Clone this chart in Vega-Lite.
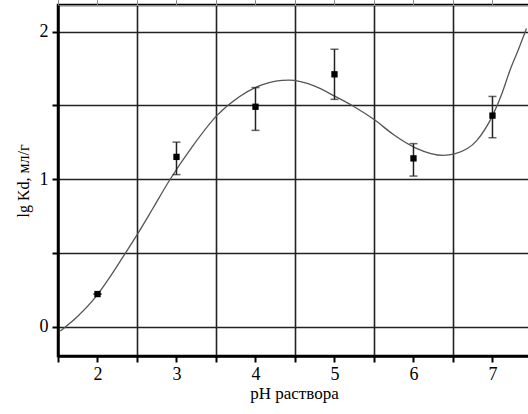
{
  "$schema": "https://vega.github.io/schema/vega-lite/v6.json",
  "autosize": {"type": "none"},
  "padding": {"left": 58, "top": 5, "right": 0, "bottom": 58},
  "width": 472,
  "height": 351,
  "background": "white",
  "config": {
    "font": "Liberation Serif",
    "view": {"stroke": "black", "strokeWidth": 2.5},
    "style": {"guide-title": {"font": "Liberation Serif", "fontWeight": "normal"}, "guide-label": {"font": "Liberation Serif"}},
    "axis": {"labelFont": "Liberation Serif", "titleFont": "Liberation Serif", "labelColor": "black", "titleColor": "black", "titleFontWeight": "normal"}
  },
  "datasets": {
    "curve": [
      {"pH": 1.53, "lg": -0.03},
      {"pH": 1.75, "lg": 0.07},
      {"pH": 1.99, "lg": 0.21},
      {"pH": 2.15, "lg": 0.33},
      {"pH": 2.32, "lg": 0.47},
      {"pH": 2.51, "lg": 0.63},
      {"pH": 2.7, "lg": 0.8},
      {"pH": 2.91, "lg": 0.99},
      {"pH": 3.2, "lg": 1.22},
      {"pH": 3.51, "lg": 1.43},
      {"pH": 3.8, "lg": 1.56},
      {"pH": 4.09, "lg": 1.64},
      {"pH": 4.42, "lg": 1.67},
      {"pH": 4.75, "lg": 1.63},
      {"pH": 5.01, "lg": 1.56},
      {"pH": 5.25, "lg": 1.49},
      {"pH": 5.51, "lg": 1.4},
      {"pH": 5.75, "lg": 1.3},
      {"pH": 6.03, "lg": 1.21},
      {"pH": 6.38, "lg": 1.16},
      {"pH": 6.52, "lg": 1.17},
      {"pH": 6.8, "lg": 1.26},
      {"pH": 7.01, "lg": 1.44},
      {"pH": 7.12, "lg": 1.58},
      {"pH": 7.23, "lg": 1.75},
      {"pH": 7.33, "lg": 1.88},
      {"pH": 7.43, "lg": 2.02}
    ],
    "points": [
      {"pH": 2, "lg": 0.22, "lo": 0.22, "hi": 0.22},
      {"pH": 3, "lg": 1.15, "lo": 1.03, "hi": 1.25},
      {"pH": 4, "lg": 1.49, "lo": 1.33, "hi": 1.62},
      {"pH": 5, "lg": 1.71, "lo": 1.54, "hi": 1.88},
      {"pH": 6, "lg": 1.14, "lo": 1.02, "hi": 1.24},
      {"pH": 7, "lg": 1.43, "lo": 1.28, "hi": 1.56}
    ]
  },
  "resolve": {"axis": {"x": "independent"}},
  "layer": [
    {
      "data": {"name": "curve"},
      "mark": {"type": "line", "color": "#555", "strokeWidth": 1.3, "interpolate": "monotone", "clip": true},
      "encoding": {
        "x": {"field": "pH", "type": "quantitative", "scale": {"domain": [1.5, 7.475], "nice": false, "zero": false},
          "axis": {"orient": "bottom", "values": [2.5, 3.5, 4.5, 5.5, 6.5], "grid": true, "gridColor": "#222", "gridWidth": 1.6, "gridOpacity": 1, "ticks": false, "labels": false, "domain": false, "title": null}},
        "y": {"field": "lg", "type": "quantitative", "scale": {"domain": [-0.2, 2.18], "nice": false, "zero": false},
          "axis": {"values": [0, 0.5, 1, 1.5, 2], "labelExpr": "datum.value % 1 === 0 ? '' + datum.value : ''", "labelOverlap": false, "grid": true, "gridColor": "#222", "gridWidth": 1.6, "gridOpacity": 1,
            "domainColor": "black", "domainWidth": 2.5, "tickColor": "black", "tickWidth": 2, "tickSize": 6, "labelFont": "Liberation Serif", "labelFontSize": 18, "labelPadding": 4,
            "title": "lg Kd, мл/г", "titleFont": "Liberation Serif", "titleFontSize": 16, "titleFontWeight": "normal", "titlePadding": 8}}
      }
    },
    {
      "data": {"name": "points"},
      "mark": {"type": "rule", "color": "#222", "strokeWidth": 1.5},
      "encoding": {
        "x": {"field": "pH", "type": "quantitative",
          "axis": {"orient": "bottom", "values": [1.5, 2, 2.5, 3, 3.5, 4, 4.5, 5, 5.5, 6, 6.5, 7], "labelExpr": "datum.value % 1 === 0 ? '' + datum.value : ''", "labelOverlap": false, "grid": false,
            "domainColor": "black", "domainWidth": 2.5, "tickColor": "black", "tickWidth": 2, "tickSize": 6, "labelFont": "Liberation Serif", "labelFontSize": 18, "labelPadding": 3,
            "title": "pH раствора", "titleFont": "Liberation Serif", "titleFontSize": 17, "titleFontWeight": "normal", "titlePadding": 2}},
        "y": {"field": "lo", "type": "quantitative"},
        "y2": {"field": "hi"}
      }
    },
    {
      "data": {"name": "points"},
      "mark": {"type": "tick", "orient": "horizontal", "color": "#222", "size": 8, "thickness": 1.5},
      "encoding": {
        "x": {"field": "pH", "type": "quantitative"},
        "y": {"field": "lo", "type": "quantitative"}
      }
    },
    {
      "data": {"name": "points"},
      "mark": {"type": "tick", "orient": "horizontal", "color": "#222", "size": 8, "thickness": 1.5},
      "encoding": {
        "x": {"field": "pH", "type": "quantitative"},
        "y": {"field": "hi", "type": "quantitative"}
      }
    },
    {
      "data": {"name": "points"},
      "mark": {"type": "square", "color": "black", "size": 40, "opacity": 1},
      "encoding": {
        "x": {"field": "pH", "type": "quantitative"},
        "y": {"field": "lg", "type": "quantitative"}
      }
    }
  ]
}
